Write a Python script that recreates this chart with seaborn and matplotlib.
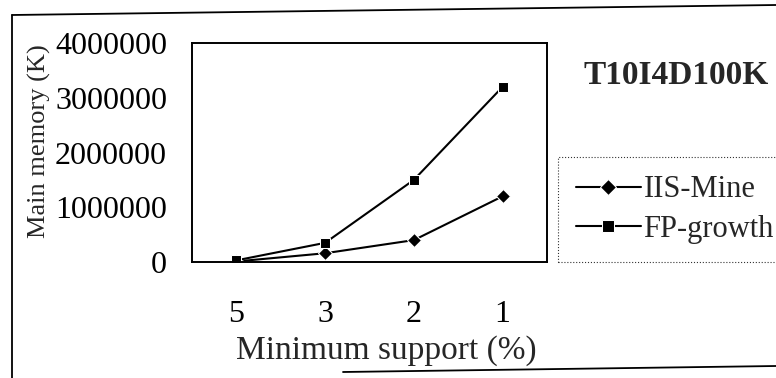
import matplotlib.pyplot as plt
import matplotlib.lines as mlines
import seaborn as sns
import pandas as pd

sns.set_theme(style="white")
plt.rcParams["font.family"] = ["Liberation Serif", "DejaVu Serif"]

# chart values
support_labels = ["5", "3", "2", "1"]
iis_mine = [10000, 160000, 400000, 1200000]
fp_growth = [30000, 350000, 1500000, 3200000]
y_ticks = [0, 1000000, 2000000, 3000000, 4000000]

W, H = 776, 378


def build_frame():
    rows = []
    for i, lab in enumerate(support_labels):
        rows.append((i, lab, "IIS-Mine", iis_mine[i]))
        rows.append((i, lab, "FP-growth", fp_growth[i]))
    return pd.DataFrame(rows, columns=["pos", "support", "method", "memory"])


def plot_data(data):
    fig = plt.figure(figsize=(W / 100, H / 100), dpi=100)
    ax = fig.add_axes([192 / W, 1 - 262 / H, 355 / W, 219 / H])

    sns.lineplot(
        data=data,
        x="pos",
        y="memory",
        hue="method",
        style="method",
        hue_order=["IIS-Mine", "FP-growth"],
        style_order=["IIS-Mine", "FP-growth"],
        palette=["black", "black"],
        markers={"IIS-Mine": "D", "FP-growth": "s"},
        dashes=False,
        markersize=7,
        linewidth=1.5,
        ax=ax,
    )

    ax.set_xlim(-0.5, len(support_labels) - 0.5)
    ax.set_ylim(0, 4000000)
    ax.set_yticks(y_ticks)
    ax.set_yticklabels([str(v) for v in y_ticks], fontsize=23)
    ax.set_xticks([i - 0.5 for i in range(len(support_labels) + 1)])
    ax.set_xticklabels([])
    ax.set_xticks(range(len(support_labels)), minor=True)
    ax.set_xticklabels(support_labels, minor=True, fontsize=23)
    ax.tick_params(axis="x", which="major", direction="out", length=7.5, width=1.2, colors="black")
    ax.tick_params(axis="x", which="minor", length=0, pad=27, labelcolor="black")
    ax.tick_params(axis="y", direction="out", length=8, width=1.2, pad=10, colors="black")

    ax.set_xlabel("Minimum support (%)", fontsize=24)
    ax.xaxis.set_label_coords(0.548, (262 - 351) / 219)
    ax.xaxis.label.set_va("center")
    ax.set_ylabel("Main memory (K)", fontsize=19)
    ax.yaxis.set_label_coords((39 - 192) / 355, (262 - 141) / 219)
    ax.yaxis.label.set_va("center")
    for sp in ax.spines.values():
        sp.set_color("black")
        sp.set_linewidth(1.4)

    handles, labels = ax.get_legend_handles_labels()
    for h in handles:
        h.set_markersize(8)
    ax.legend_.remove()
    leg = fig.legend(
        handles,
        labels,
        loc="upper left",
        bbox_to_anchor=(558 / W, 1 - 157 / H),
        fontsize=22,
        frameon=True,
        fancybox=False,
        handlelength=2.1,
        borderpad=0.6,
        borderaxespad=0,
        labelspacing=0.35,
        handletextpad=0.1,
    )
    frame = leg.get_frame()
    frame.set_edgecolor("black")
    frame.set_linewidth(0.8)
    frame.set_linestyle(":")

    fig.text(583 / W, 1 - 75 / H, "T10I4D100K", fontsize=24, fontweight="bold",
             va="center", ha="left")

    # border of the scanned page
    border = [
        ((12, 776), (15, 5)),
        ((12, 12), (15, 378)),
        ((343, 776), (372, 366)),
    ]
    for xs, ys in border:
        fig.add_artist(mlines.Line2D([x / W for x in xs], [1 - y / H for y in ys],
                                     color="black", linewidth=1.3))

    fig.savefig("out.png", dpi=100)


def main():
    plot_data(build_frame())


if __name__ == "__main__":
    main()
